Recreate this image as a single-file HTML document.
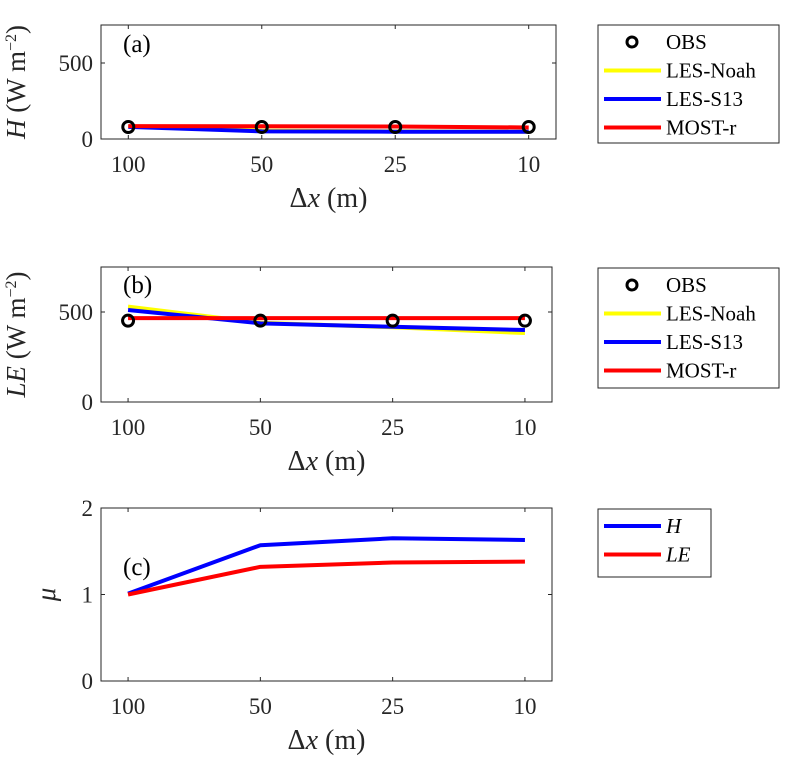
<!DOCTYPE html>
<html><head><meta charset="utf-8"><style>
body{margin:0;background:#fff;width:790px;height:766px;overflow:hidden}
svg{display:block}
text{font-family:"Liberation Serif","DejaVu Serif",serif}
</style></head><body>
<svg id="c" width="790" height="766"></svg>
<script>
const categories=["100","50","25","10"];
const obsH=[79,79,79,79];
const noahH=[82,55,50,48];
const s13H=[80,50,48,48];
const mostH=[85,84,82,76];
const obsLE=[452,452,452,452];
const noahLE=[530,440,415,383];
const s13LE=[511,437,418,400];
const mostLE=[466,466,466,466];
const muH=[1.01,1.57,1.65,1.63];
const muLE=[1.0,1.32,1.37,1.38];
const ticksHLE=[0,500];
const ticksMu=[0,1,2];
const NS="http://www.w3.org/2000/svg";
const svg=document.getElementById('c');
const FF='"Liberation Serif", "DejaVu Serif", serif';
function el(t,a,p){const e=document.createElementNS(NS,t);for(const k in a)e.setAttribute(k,a[k]);(p||svg).appendChild(e);return e;}
function txt(s,a,p){a['font-family']=FF;const e=el('text',a,p);e.textContent=s;return e;}
function panel(o){
 const g=el('g',{});
 
 
 const x=i=>o.x0+(o.x1-o.x0)*(0.06+0.88*i/3);
 const y=v=>o.yb-(o.yb-o.yt)*(v-o.ymin)/(o.ymax-o.ymin);
 const f=el('rect',{x:o.x0,y:o.yt,width:o.x1-o.x0,height:o.yb-o.yt,fill:'none',stroke:'#262626','stroke-width':1},g);
 
 categories.forEach((c,i)=>{const X=x(i);
  el('line',{x1:X,x2:X,y1:o.yb,y2:o.yb-4,stroke:'#262626'},g);
  el('line',{x1:X,x2:X,y1:o.yt,y2:o.yt+4,stroke:'#262626'},g);
  const t=txt(c,{x:X,y:o.yb+33,'text-anchor':'middle','font-size':23,fill:'#262626'},g);
  
 });
 o.ticks.forEach(v=>{const Y=y(v);
  el('line',{x1:o.x0,x2:o.x0+4,y1:Y,y2:Y,stroke:'#262626'},g);
  el('line',{x1:o.x1,x2:o.x1-4,y1:Y,y2:Y,stroke:'#262626'},g);
  const t=txt(String(v),{x:o.x0-8,y:Y+8,'text-anchor':'end','font-size':23,fill:'#262626'},g);
  
 });
 o.series.forEach(s=>{
  const p=el('polyline',{points:s.v.map((v,i)=>x(i)+','+y(v)).join(' '),fill:'none',stroke:s.c,'stroke-width':4,'stroke-linejoin':'round'},g);
  
 });
 if(o.obs)o.obs.forEach((v,i)=>{const m=el('circle',{cx:x(i),cy:y(v),r:5.5,fill:'none',stroke:'#000','stroke-width':3},g);
  });
 const lb=txt(o.label,{x:o.x0+22,y:o.lby,'font-size':25,fill:'#000'},g);
 
 const xt=txt('',{x:(o.x0+o.x1)/2,y:o.yb+68,'text-anchor':'middle','font-size':28,fill:'#262626'},g);
 xt.innerHTML='Δ<tspan font-style="italic">x</tspan> (m)';
 
 const cy=(o.yt+o.yb)/2;
 const yt=txt('',{x:0,y:0,'text-anchor':'middle','font-size':27,fill:'#262626',transform:`translate(${o.ytx},${cy}) rotate(-90)`},g);
 yt.innerHTML=o.ytitle;
 
}
function legend(x0,y0,w,h,items,name){
 const g=el('g',{});
 
 el('rect',{x:x0,y:y0,width:w,height:h,fill:'#fff',stroke:'#262626'},g);
 items.forEach((it,i)=>{const Y=y0+17+i*28.5;
  if(it.m){el('circle',{cx:x0+34,cy:Y,r:5,fill:'none',stroke:'#000','stroke-width':3},g);}
  else el('line',{x1:x0+6,x2:x0+63,y1:Y,y2:Y,stroke:it.c,'stroke-width':4},g);
  const t=txt('',{x:x0+68,y:Y+7,'font-size':21,fill:'#000'},g);
  t.innerHTML=it.t;
  
 });
}
const wm='(W m<tspan dy="-9" font-size="16">−2</tspan><tspan dy="9">)</tspan>';
panel({name:'panel-a',x0:101,x1:556,yt:25,yb:139,ymin:0,ymax:750,ticks:ticksHLE,label:'(a)',lby:52,ytx:25,
 ytitle:'<tspan font-style="italic">H</tspan> '+wm,obs:obsH,
 series:[{v:noahH,c:'#ffff00',n:'line-les-noah'},{v:s13H,c:'#0000ff',n:'line-les-s13'},{v:mostH,c:'#ff0000',n:'line-most-r'}]});
panel({name:'panel-b',x0:101,x1:552,yt:267,yb:402,ymin:0,ymax:750,ticks:ticksHLE,label:'(b)',lby:293,ytx:25,
 ytitle:'<tspan font-style="italic">LE</tspan> '+wm,obs:obsLE,
 series:[{v:noahLE,c:'#ffff00',n:'line-les-noah'},{v:s13LE,c:'#0000ff',n:'line-les-s13'},{v:mostLE,c:'#ff0000',n:'line-most-r'}]});
panel({name:'panel-c',x0:101,x1:552,yt:508,yb:681,ymin:0,ymax:2,ticks:ticksMu,label:'(c)',lby:575,ytx:55,
 ytitle:'<tspan font-style="italic">μ</tspan>',obs:null,
 series:[{v:muH,c:'#0000ff',n:'line-mu-h'},{v:muLE,c:'#ff0000',n:'line-mu-le'}]});
const L4=[{m:1,t:'OBS'},{c:'#ffff00',t:'LES-Noah'},{c:'#0000ff',t:'LES-S13'},{c:'#ff0000',t:'MOST-r'}];
legend(598,25,181,118,L4,'legend-a');
legend(598,268,181,120,L4,'legend-b');
legend(598,509,113,68,[{c:'#0000ff',t:'<tspan font-style="italic">H</tspan>'},{c:'#ff0000',t:'<tspan font-style="italic">LE</tspan>'}],'legend-c');
</script>
</body></html>
